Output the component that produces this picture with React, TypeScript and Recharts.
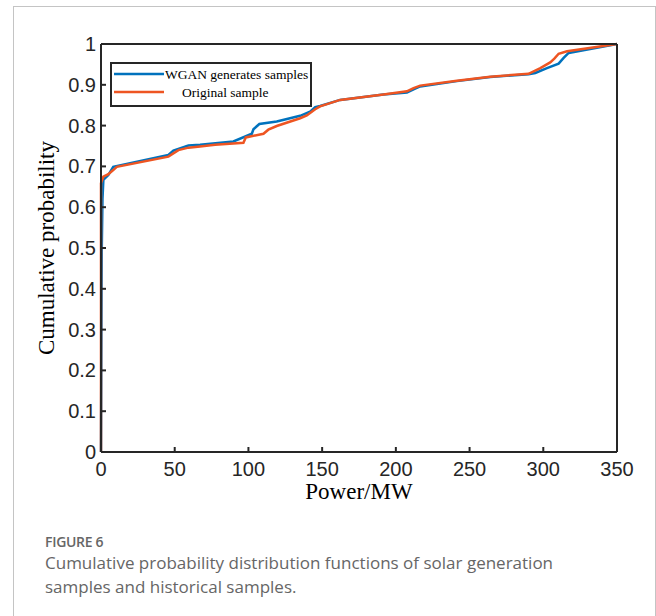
import React from "react";
import { LineChart, Line, XAxis, YAxis } from "recharts";

// ─── Data ────────────────────────────────────────────────────────────────────

const WGAN_POWER = [0, 0.5, 1.0, 1.6, 5.0, 8.3, 45.7, 49.1, 59.3, 67.2, 89.8, 102.3, 103.4, 107.4, 119.2, 135.1, 141.8, 145.3, 148.6, 162.2, 191.6, 207.5, 212, 216.5, 241.4, 264, 290, 294.6, 302.5, 310.4, 313.8, 317.2, 350];
const WGAN_PROB = [0, 0.49, 0.62, 0.667, 0.679, 0.699, 0.728, 0.739, 0.751, 0.753, 0.761, 0.78, 0.791, 0.804, 0.81, 0.824, 0.834, 0.845, 0.848, 0.863, 0.876, 0.881, 0.889, 0.896, 0.909, 0.919, 0.926, 0.929, 0.941, 0.952, 0.966, 0.978, 1.0];

const ORIG_POWER = [0, 0, 1.6, 5.0, 8.3, 10.7, 45.7, 52.5, 59.3, 67.2, 77.4, 96.6, 98.2, 110.2, 113.5, 119.2, 135.1, 139.6, 145.3, 148.6, 162.2, 191.6, 207.5, 212, 216.5, 241.4, 264, 290, 298, 304.7, 307.5, 310.4, 316.1, 350];
const ORIG_PROB = [0, 0.659, 0.675, 0.681, 0.691, 0.699, 0.724, 0.74, 0.746, 0.749, 0.753, 0.758, 0.771, 0.78, 0.79, 0.799, 0.818, 0.825, 0.84, 0.847, 0.863, 0.876, 0.884, 0.892, 0.898, 0.91, 0.92, 0.927, 0.941, 0.955, 0.964, 0.976, 0.982, 1.0];

const X_TICKS = [0, 50, 100, 150, 200, 250, 300, 350];
const Y_TICKS = [0, 0.1, 0.2, 0.3, 0.4, 0.5, 0.6, 0.7, 0.8, 0.9, 1];

const SERIES_NAMES = ["WGAN generates samples", "Original sample"];

// ─── Style ───────────────────────────────────────────────────────────────────

const BLUE = "#0072BD";
const ORANGE = "#EE5522";
const AXIS = "#262626";
const TICK_LEN = 5;
const PLOT = { left: 101, right: 617, top: 44, bottom: 452 };
const SANS = "'Liberation Sans', Arial, sans-serif";
const SERIF = "'Liberation Serif', 'Times New Roman', serif";

const wganData = WGAN_POWER.map((x, i) => ({ x, y: WGAN_PROB[i] }));
const origData = ORIG_POWER.map((x, i) => ({ x, y: ORIG_PROB[i] }));

// ─── Ticks (MATLAB style, pointing inward) ───────────────────────────────────

function BottomTick({ x, payload }: any) {
  return (
    <g>
      <line x1={x} x2={x} y1={PLOT.bottom} y2={PLOT.bottom - TICK_LEN} stroke={AXIS} strokeWidth={2} />
      <text x={x} y={PLOT.bottom + 24} textAnchor="middle" fontSize={20} fill={AXIS} fontFamily={SANS}>
        {payload.value}
      </text>
    </g>
  );
}

function TopTick({ x }: any) {
  return <line x1={x} x2={x} y1={PLOT.top} y2={PLOT.top + TICK_LEN} stroke={AXIS} strokeWidth={2} />;
}

function LeftTick({ y, payload }: any) {
  return (
    <g>
      <line x1={PLOT.left} x2={PLOT.left + TICK_LEN} y1={y} y2={y} stroke={AXIS} strokeWidth={2} />
      <text x={PLOT.left - 5} y={y + 7} textAnchor="end" fontSize={20} fill={AXIS} fontFamily={SANS}>
        {payload.value}
      </text>
    </g>
  );
}

function RightTick({ y }: any) {
  return <line x1={PLOT.right} x2={PLOT.right - TICK_LEN} y1={y} y2={y} stroke={AXIS} strokeWidth={2} />;
}

// ─── Legend box ──────────────────────────────────────────────────────────────

function LegendBox() {
  const colors = [BLUE, ORANGE];
  const textX = [55, 72];
  return (
    <svg width={202} height={45} style={{ display: "block" }}>
      <rect x={1} y={1} width={200} height={43} fill="#fff" stroke={AXIS} strokeWidth={2} />
      {SERIES_NAMES.map((name, i) => (
        <g key={name}>
          <line x1={4} x2={54} y1={12 + i * 18} y2={12 + i * 18} stroke={colors[i]} strokeWidth={2.5} />
          <text x={textX[i]} y={17 + i * 18} fontSize={13.5} fill="#000" fontFamily={SERIF}>
            {name}
          </text>
        </g>
      ))}
    </svg>
  );
}

// ─── Component ───────────────────────────────────────────────────────────────

export default function App() {
  return (
    <div
      style={{
        position: "absolute",
        left: 0,
        top: 0,
        width: 656,
        height: 616,
        overflow: "hidden",
        background: "#fff",
      }}
    >
      <div
        style={{
          position: "absolute",
          left: 13,
          top: 6,
          width: 641,
          height: 620,
          borderTop: "1px solid #c4c4c4",
          borderLeft: "1px solid #c4c4c4",
          borderRight: "1px solid #c4c4c4",
        }}
      />
      <div style={{ position: "absolute", left: 0, top: 0 }}>
        <LineChart width={656} height={520} margin={{ top: 43, right: 38, bottom: 28, left: 41 }}>
          <XAxis
            xAxisId="bottom"
            dataKey="x"
            type="number"
            domain={[0, 350]}
            ticks={X_TICKS}
            height={40}
            tickSize={0}
            tickMargin={0}
            tickLine={false}
            tick={<BottomTick />}
            axisLine={{ stroke: AXIS, strokeWidth: 2 }}
            label={{
              content: () => (
                <text x={(PLOT.left + PLOT.right) / 2} y={499} textAnchor="middle" fontSize={23} fill="#000" fontFamily={SERIF}>
                  Power/MW
                </text>
              ),
            }}
          />
          <XAxis
            xAxisId="top"
            orientation="top"
            dataKey="x"
            type="number"
            domain={[0, 350]}
            ticks={X_TICKS}
            height={1}
            tickSize={0}
            tickMargin={0}
            tickLine={false}
            tick={<TopTick />}
            axisLine={{ stroke: AXIS, strokeWidth: 2 }}
          />
          <YAxis
            yAxisId="left"
            type="number"
            domain={[0, 1]}
            ticks={Y_TICKS}
            width={60}
            tickSize={0}
            tickMargin={0}
            tickLine={false}
            tick={<LeftTick />}
            axisLine={{ stroke: AXIS, strokeWidth: 2 }}
            label={{
              content: () => (
                <text
                  x={46}
                  y={(PLOT.top + PLOT.bottom) / 2}
                  transform={`rotate(-90 46 ${(PLOT.top + PLOT.bottom) / 2})`}
                  textAnchor="middle"
                  dominantBaseline="central"
                  fontSize={23}
                  fill="#000"
                  fontFamily={SERIF}
                >
                  Cumulative probability
                </text>
              ),
            }}
          />
          <YAxis
            yAxisId="right"
            orientation="right"
            type="number"
            domain={[0, 1]}
            ticks={Y_TICKS}
            width={1}
            tickSize={0}
            tickMargin={0}
            tickLine={false}
            tick={<RightTick />}
            axisLine={{ stroke: AXIS, strokeWidth: 2 }}
          />
          <Line
            xAxisId="bottom"
            yAxisId="left"
            data={wganData}
            dataKey="y"
            name={SERIES_NAMES[0]}
            type="linear"
            stroke={BLUE}
            strokeWidth={2.5}
            dot={false}
            isAnimationActive={false}
          />
          <Line
            xAxisId="bottom"
            yAxisId="left"
            data={origData}
            dataKey="y"
            name={SERIES_NAMES[1]}
            type="linear"
            stroke={ORANGE}
            strokeWidth={2.5}
            dot={false}
            isAnimationActive={false}
          />
        </LineChart>
      </div>
      <div style={{ position: "absolute", left: 110, top: 62 }}>
        <LegendBox />
      </div>
      <div
        style={{
          position: "absolute",
          left: 45,
          top: 533,
          fontFamily: "'Open Sans', sans-serif",
          color: "#666",
        }}
      >
        <div style={{ fontSize: 14, fontWeight: 600, lineHeight: "18px", letterSpacing: -0.3 }}>FIGURE 6</div>
        <div style={{ fontSize: 17, lineHeight: "24px", width: 545 }}>
          Cumulative probability distribution functions of solar generation samples and historical samples.
        </div>
      </div>
    </div>
  );
}
